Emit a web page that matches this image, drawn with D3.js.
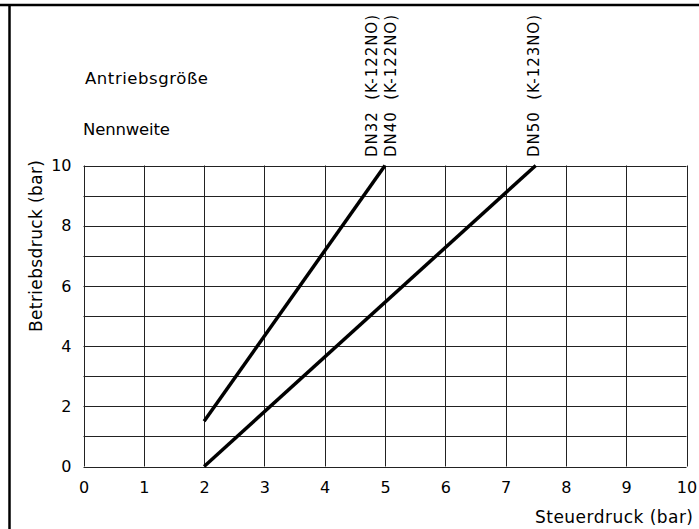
<!DOCTYPE html>
<html><head><meta charset="utf-8">
<script src="https://cdn.jsdelivr.net/npm/d3@7"></script>
<style>
body{margin:0;background:#fff;}
text{font-family:"DejaVu Sans",sans-serif;fill:#000;white-space:pre;}
</style></head>
<body><svg id="c" width="699" height="529"></svg>
<script>
const xTicks = [0,1,2,3,4,5,6,7,8,9,10];
const yTicks = [0,2,4,6,8,10];
const yGrid = [0,1,2,3,4,5,6,7,8,9,10];
const seriesNames = ["DN32  (K-122NO)", "DN40  (K-122NO)", "DN50  (K-123NO)"];
const lineA = [{x:2,y:1.5},{x:5,y:10}];
const lineB = [{x:2,y:0},{x:7.5,y:10}];

const svg = d3.select("#c");
const L=83.5, R=686.5, T=165.5, B=466.5;
const x = d3.scaleLinear().domain([0,10]).range([L,R]);
const y = d3.scaleLinear().domain([0,10]).range([B,T]);

// frame
svg.append("line").attr("x1",0).attr("x2",699).attr("y1",5).attr("y2",5).attr("stroke","#000").attr("stroke-width",2.5);
svg.append("line").attr("x1",9.5).attr("x2",9.5).attr("y1",4).attr("y2",529).attr("stroke","#000").attr("stroke-width",2.5);

// grid
const g = svg.append("g");
g.selectAll(".vg").data(xTicks).join("line")
  .attr("x1",d=>Math.round(x(d))+0.5).attr("x2",d=>Math.round(x(d))+0.5)
  .attr("y1",T).attr("y2",B).attr("stroke","#222").attr("stroke-width",1);
g.selectAll(".hg").data(yGrid).join("line")
  .attr("y1",d=>Math.round(y(d))+0.5).attr("y2",d=>Math.round(y(d))+0.5)
  .attr("x1",L).attr("x2",R).attr("stroke","#222").attr("stroke-width",1);

// axes labels
const xa = svg.append("g").attr("transform",`translate(0,${B})`)
  .call(d3.axisBottom(x).tickValues(xTicks).tickSize(0).tickPadding(15).tickFormat(d3.format("d")));
xa.select(".domain").remove();
xa.selectAll("text").attr("font-size",16).attr("font-family","DejaVu Sans");
const ya = svg.append("g").attr("transform",`translate(${L},0)`)
  .call(d3.axisLeft(y).tickValues(yTicks).tickSize(0).tickPadding(12).tickFormat(d3.format("d")));
ya.select(".domain").remove();
ya.selectAll("text").attr("font-size",16).attr("font-family","DejaVu Sans");

// lines
const ln = d3.line().x(d=>x(d.x)).y(d=>y(d.y));
[lineA,lineB].forEach(dd=>{
  svg.append("path").attr("d",ln(dd)).attr("fill","none").attr("stroke","#000").attr("stroke-width",3.5);
});

// rotated labels
const labs = [
  {t:seriesNames[0], xv:5, dx:-8.5},
  {t:seriesNames[1], xv:5, dx:10.5},
  {t:seriesNames[2], xv:7.5, dx:3}
];
labs.forEach(l=>{
  svg.append("text").attr("transform",`translate(${x(l.xv)+l.dx},157) rotate(-90)`)
    .attr("font-size",15).attr("text-anchor","start")
    .attr("textLength",142).attr("lengthAdjust","spacing").text(l.t);
});

svg.append("text").attr("x",85).attr("y",84).attr("font-size",16.5)
  .attr("textLength",123).attr("lengthAdjust","spacing").text("Antriebsgröße");
svg.append("text").attr("x",83).attr("y",135).attr("font-size",16.5)
  .attr("textLength",87).attr("lengthAdjust","spacing").text("Nennweite");

svg.append("text").attr("transform","translate(42,332) rotate(-90)").attr("text-anchor","start")
  .attr("font-size",17).attr("textLength",172).attr("lengthAdjust","spacing").text("Betriebsdruck (bar)");
svg.append("text").attr("x",535).attr("y",523).attr("font-size",17)
  .attr("textLength",158).attr("lengthAdjust","spacing").text("Steuerdruck (bar)");
</script></body></html>
